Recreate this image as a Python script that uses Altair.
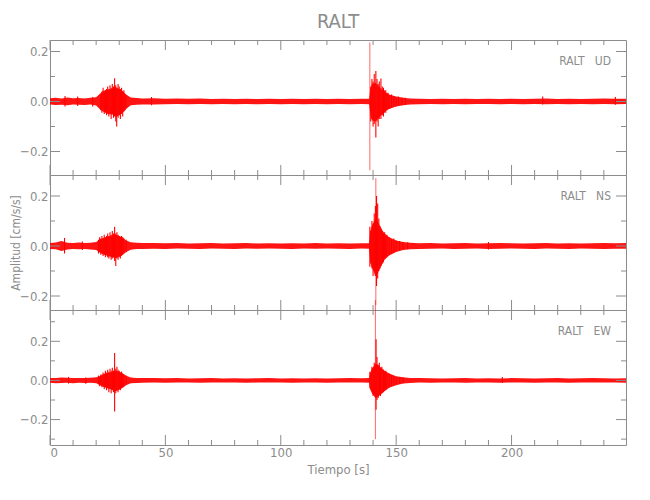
import altair as alt
import pandas as pd

RED = "#ff0000"
GRAY = "#8c8c8c"
FONT = "DejaVu Sans Condensed, Liberation Sans Narrow, Liberation Sans, sans-serif"
X_MAX = 249.6
W, H = 576, 135

# ---- envelope of the noise band (time in s, amplitude in cm/s/s) ----
band_t = [0, 2.5, 5, 7.5, 10, 12.5, 15, 17.5, 20,
          21.5, 23, 25, 27, 28.5, 30, 31.5, 33, 35, 37.5, 40,
          45, 50, 55, 60, 65, 70, 75, 80, 85, 90, 95, 100, 105, 110, 115, 120, 125, 130, 135,
          138.3, 138.8, 139.5, 141, 142, 143.5, 145, 147, 150, 153, 156,
          160, 165, 170, 175, 180, 185, 190, 195, 200, 205, 210, 215, 220, 225, 230, 235, 240, 245,
          249.6]

ud_hi = [0.013, 0.015, 0.012, 0.016, 0.013, 0.014, 0.012, 0.015, 0.017,
         0.030, 0.042, 0.048, 0.052, 0.058, 0.050, 0.042, 0.028, 0.016, 0.014, 0.012,
         0.013, 0.011, 0.012, 0.011, 0.012, 0.010, 0.011, 0.010, 0.011, 0.010, 0.011, 0.010, 0.011, 0.010, 0.011, 0.010, 0.011, 0.010, 0.011,
         0.011, 0.050, 0.070, 0.075, 0.065, 0.050, 0.038, 0.028, 0.020, 0.015, 0.012,
         0.011, 0.010, 0.011, 0.010, 0.011, 0.010, 0.011, 0.010, 0.011, 0.010, 0.011, 0.012, 0.010, 0.011, 0.010, 0.011, 0.012, 0.011,
         0.011]
ud_lo = [-0.012, -0.014, -0.013, -0.015, -0.012, -0.013, -0.014, -0.012, -0.016,
         -0.030, -0.040, -0.050, -0.052, -0.060, -0.055, -0.045, -0.030, -0.015, -0.013, -0.012,
         -0.012, -0.011, -0.010, -0.011, -0.010, -0.011, -0.010, -0.011, -0.010, -0.011, -0.010, -0.011, -0.010, -0.011, -0.010, -0.011, -0.010, -0.011, -0.010,
         -0.011, -0.050, -0.075, -0.080, -0.070, -0.055, -0.040, -0.030, -0.020, -0.015, -0.012,
         -0.011, -0.010, -0.011, -0.010, -0.011, -0.010, -0.010, -0.011, -0.010, -0.011, -0.010, -0.011, -0.010, -0.011, -0.010, -0.011, -0.010, -0.011,
         -0.010]

ns_hi = [0.012, 0.014, 0.020, 0.013, 0.012, 0.014, 0.012, 0.013, 0.016,
         0.025, 0.032, 0.038, 0.042, 0.045, 0.040, 0.034, 0.022, 0.015, 0.013, 0.012,
         0.012, 0.011, 0.012, 0.010, 0.011, 0.012, 0.010, 0.011, 0.012, 0.010, 0.011, 0.010, 0.011, 0.010, 0.012, 0.010, 0.011, 0.010, 0.011,
         0.011, 0.060, 0.080, 0.110, 0.100, 0.070, 0.050, 0.035, 0.022, 0.016, 0.013,
         0.011, 0.012, 0.010, 0.011, 0.012, 0.010, 0.011, 0.012, 0.011, 0.010, 0.011, 0.012, 0.010, 0.011, 0.010, 0.011, 0.012, 0.011,
         0.012]
ns_lo = [-0.012, -0.013, -0.020, -0.014, -0.012, -0.013, -0.012, -0.014, -0.016,
         -0.025, -0.033, -0.040, -0.045, -0.048, -0.042, -0.035, -0.024, -0.015, -0.012, -0.012,
         -0.011, -0.012, -0.010, -0.011, -0.012, -0.010, -0.011, -0.012, -0.010, -0.011, -0.010, -0.011, -0.012, -0.010, -0.011, -0.010, -0.011, -0.012, -0.010,
         -0.011, -0.065, -0.085, -0.120, -0.110, -0.080, -0.055, -0.038, -0.024, -0.016, -0.013,
         -0.012, -0.011, -0.010, -0.012, -0.011, -0.010, -0.012, -0.011, -0.010, -0.011, -0.012, -0.010, -0.011, -0.012, -0.010, -0.011, -0.012, -0.011,
         -0.011]

ew_hi = [0.013, 0.012, 0.015, 0.014, 0.012, 0.013, 0.012, 0.014, 0.016,
         0.022, 0.030, 0.038, 0.045, 0.050, 0.045, 0.036, 0.024, 0.015, 0.013, 0.012,
         0.012, 0.011, 0.012, 0.010, 0.011, 0.012, 0.010, 0.011, 0.010, 0.011, 0.012, 0.010, 0.011, 0.010, 0.011, 0.010, 0.011, 0.012, 0.011,
         0.012, 0.040, 0.060, 0.085, 0.080, 0.065, 0.050, 0.035, 0.022, 0.016, 0.013,
         0.012, 0.011, 0.010, 0.011, 0.012, 0.010, 0.011, 0.010, 0.012, 0.011, 0.010, 0.011, 0.012, 0.010, 0.011, 0.012, 0.011, 0.010,
         0.011]
ew_lo = [-0.012, -0.014, -0.013, -0.012, -0.014, -0.012, -0.013, -0.012, -0.015,
         -0.022, -0.032, -0.040, -0.048, -0.055, -0.048, -0.038, -0.025, -0.015, -0.013, -0.012,
         -0.011, -0.012, -0.010, -0.011, -0.012, -0.010, -0.011, -0.010, -0.012, -0.011, -0.010, -0.011, -0.012, -0.010, -0.011, -0.012, -0.010, -0.011, -0.010,
         -0.012, -0.040, -0.065, -0.090, -0.085, -0.070, -0.055, -0.038, -0.024, -0.016, -0.013,
         -0.011, -0.012, -0.010, -0.011, -0.012, -0.010, -0.011, -0.012, -0.010, -0.011, -0.012, -0.010, -0.011, -0.012, -0.010, -0.011, -0.010, -0.011,
         -0.012]

# ---- oscillation spikes: (time, min, max) ----
ud_spikes = [(6.5, -0.020, 0.022), (12.0, -0.018, 0.020), (18.5, -0.020, 0.018),
             (22.0, -0.035, 0.030), (22.5, -0.045, 0.040), (23.0, -0.030, 0.055), (23.5, -0.050, 0.035),
             (24.0, -0.040, 0.045), (24.5, -0.055, 0.050), (25.0, -0.035, 0.060), (25.5, -0.060, 0.045),
             (26.0, -0.045, 0.065), (26.5, -0.070, 0.055), (27.0, -0.050, 0.070), (27.5, -0.065, 0.060),
             (28.0, -0.060, 0.093), (28.5, -0.080, 0.065), (28.9, -0.100, 0.050), (29.5, -0.065, 0.070),
             (30.0, -0.055, 0.060), (30.5, -0.070, 0.050), (31.0, -0.050, 0.055), (31.5, -0.060, 0.040),
             (32.0, -0.040, 0.045), (32.5, -0.035, 0.030), (33.0, -0.025, 0.025), (44.0, -0.015, 0.018),
             (139.0, -0.080, 0.060), (139.5, -0.070, 0.090), (140.0, -0.100, 0.080), (140.5, -0.090, 0.110),
             (141.2, -0.144, 0.122), (141.7, -0.080, 0.090), (142.2, -0.100, 0.070), (142.7, -0.070, 0.080),
             (143.4, -0.070, 0.092), (144.0, -0.055, 0.060), (144.5, -0.060, 0.055), (145.0, -0.045, 0.045),
             (145.5, -0.045, 0.045), (146.0, -0.035, 0.035), (146.5, -0.030, 0.035), (147.0, -0.030, 0.025),
             (148.0, -0.025, 0.028), (149.0, -0.020, 0.022), (150.0, -0.020, 0.018), (151.0, -0.016, 0.020),
             (152.5, -0.015, 0.016), (154.0, -0.012, 0.015), (213.5, -0.012, 0.020), (245.0, -0.013, 0.018)]
ud_peak = [(138.6, -0.275, 0.236)]

ns_spikes = [(6.3, -0.030, 0.032), (14.0, -0.016, 0.018),
             (21.0, -0.030, 0.025), (21.5, -0.025, 0.035), (22.0, -0.035, 0.030), (22.5, -0.030, 0.040),
             (23.0, -0.040, 0.030), (23.5, -0.035, 0.045), (24.0, -0.045, 0.035), (24.5, -0.030, 0.040),
             (25.0, -0.045, 0.050), (25.5, -0.050, 0.040), (26.0, -0.040, 0.055), (26.5, -0.055, 0.045),
             (27.0, -0.050, 0.060), (27.5, -0.045, 0.050), (28.0, -0.060, 0.077), (28.5, -0.080, 0.050),
             (29.0, -0.050, 0.055), (29.5, -0.055, 0.045), (30.0, -0.045, 0.040), (30.5, -0.050, 0.035),
             (31.0, -0.040, 0.040), (31.5, -0.035, 0.035), (32.0, -0.030, 0.030), (33.0, -0.025, 0.025),
             (138.6, -0.083, 0.077), (139.0, -0.070, 0.060), (139.5, -0.090, 0.100), (140.0, -0.120, 0.090),
             (140.5, -0.100, 0.130), (141.0, -0.120, 0.160), (141.5, -0.160, 0.200), (142.0, -0.130, 0.170),
             (142.5, -0.100, 0.110), (143.0, -0.090, 0.080), (143.5, -0.080, 0.070), (144.0, -0.070, 0.060),
             (144.5, -0.065, 0.050), (145.0, -0.050, 0.055), (145.5, -0.045, 0.040), (146.0, -0.040, 0.045),
             (147.0, -0.035, 0.035), (148.0, -0.030, 0.025), (149.0, -0.025, 0.030), (150.0, -0.020, 0.022),
             (151.5, -0.018, 0.020), (153.0, -0.015, 0.016), (155.0, -0.013, 0.015), (190.0, -0.014, 0.016)]
ns_peak = [(141.2, -0.236, 0.271)]

ew_spikes = [(8.0, -0.016, 0.018), (15.5, -0.017, 0.015),
             (21.0, -0.020, 0.025), (21.5, -0.030, 0.020), (22.0, -0.025, 0.030), (22.5, -0.035, 0.030),
             (23.0, -0.030, 0.040), (23.5, -0.045, 0.035), (24.0, -0.035, 0.050), (24.5, -0.050, 0.040),
             (25.0, -0.040, 0.055), (25.5, -0.060, 0.045), (26.0, -0.045, 0.060), (26.5, -0.065, 0.050),
             (27.0, -0.050, 0.065), (27.5, -0.060, 0.050), (28.0, -0.159, 0.140), (28.5, -0.065, 0.060),
             (29.0, -0.050, 0.070), (29.5, -0.060, 0.055), (30.0, -0.045, 0.050), (30.5, -0.050, 0.040),
             (31.0, -0.040, 0.045), (31.5, -0.035, 0.035), (32.0, -0.030, 0.030), (33.0, -0.020, 0.025),
             (138.6, -0.040, 0.045), (139.0, -0.050, 0.040), (139.5, -0.060, 0.070), (140.0, -0.080, 0.060),
             (140.5, -0.070, 0.090), (141.3, -0.150, 0.210), (141.7, -0.100, 0.120), (142.2, -0.090, 0.080),
             (142.7, -0.075, 0.090), (143.2, -0.080, 0.065), (143.8, -0.065, 0.070), (144.5, -0.060, 0.055),
             (145.0, -0.050, 0.045), (145.5, -0.045, 0.050), (146.0, -0.040, 0.035), (147.0, -0.035, 0.035),
             (148.0, -0.028, 0.028), (149.0, -0.022, 0.024), (150.0, -0.020, 0.018), (151.5, -0.016, 0.018),
             (153.0, -0.014, 0.015), (196.0, -0.013, 0.017)]
ew_peak = [(141.0, -0.300, 0.410)]

components = ["UD", "NS", "EW"]
station = "RALT"
y_domains = [(-0.294, 0.246), (-0.256, 0.284), (-0.330, 0.360)]
y_major = [[-0.2, 0.0, 0.2], [-0.2, 0.0, 0.2], [-0.2, 0.0, 0.2]]
y_minor = [[-0.1, 0.1], [-0.1, 0.1], [-0.3, -0.1, 0.1, 0.3]]
x_labels = [0, 50, 100, 150, 200]
x_minor = [10, 20, 30, 40, 60, 70, 80, 90, 110, 120, 130, 140, 160, 170, 180, 190, 210, 220, 230, 240]
x_title = "Tiempo [s]"
y_title = "Amplitud [cm/s/s]"

bands = [(ud_lo, ud_hi), (ns_lo, ns_hi), (ew_lo, ew_hi)]
spikes = [ud_spikes, ns_spikes, ew_spikes]
peaks = [ud_peak, ns_peak, ew_peak]


def panel(i):
    last = i == 2
    xscale = alt.Scale(domain=[0, X_MAX], nice=False, zero=False)
    yscale = alt.Scale(domain=list(y_domains[i]), nice=False, zero=False)
    if last:
        xaxis = alt.Axis(values=x_labels, ticks=False, domain=False, grid=False, labelPadding=1,
                         title=x_title, titlePadding=4, format="d")
    else:
        xaxis = None
    if i == 1:
        yaxis = alt.Axis(values=y_major[i], ticks=False, domain=False, grid=False, format=".1f",
                         labelPadding=2, title=y_title, titleAngle=270, titleBaseline="bottom",
                         titleX=-28, titleY=H / 2, titleFontSize=12)
    else:
        yaxis = alt.Axis(values=y_major[i], ticks=False, domain=False, grid=False, format=".1f",
                         labelPadding=2, title=None)

    band_df = pd.DataFrame({"t": band_t, "lo": bands[i][0], "hi": bands[i][1]})
    sp_df = pd.DataFrame(spikes[i], columns=["t", "lo", "hi"])
    pk_df = pd.DataFrame(peaks[i], columns=["t", "lo", "hi"])

    X = lambda f: alt.X(f, scale=xscale, axis=xaxis)
    Y = lambda f: alt.Y(f, scale=yscale, axis=yaxis)

    band = alt.Chart(band_df).mark_area(color=RED, opacity=0.92).encode(
        x=X("t:Q"), y=Y("lo:Q"), y2="hi:Q")
    sp = alt.Chart(sp_df).mark_rule(color=RED, strokeWidth=1.1).encode(
        x=X("t:Q"), y=Y("lo:Q"), y2="hi:Q")
    pk = alt.Chart(pk_df).mark_rule(color=RED, strokeWidth=1, opacity=0.6).encode(
        x=X("t:Q"), y=Y("lo:Q"), y2="hi:Q")

    xt_major = pd.DataFrame({"v": x_labels})
    xt_minor = pd.DataFrame({"v": x_minor})
    yt_major = pd.DataFrame({"v": y_major[i]})
    yt_minor = pd.DataFrame({"v": y_minor[i]})

    tick = dict(color=GRAY, strokeWidth=1)
    layers = [band, sp, pk]
    for df, ln in ((xt_major, 10), (xt_minor, 5)):
        layers.append(alt.Chart(df).mark_rule(**tick).encode(
            x=X("v:Q"), y=alt.value(0), y2=alt.value(ln)))
        layers.append(alt.Chart(df).mark_rule(**tick).encode(
            x=X("v:Q"), y=alt.value(H), y2=alt.value(H - ln)))
    for df, ln in ((yt_major, 10), (yt_minor, 5)):
        layers.append(alt.Chart(df).mark_rule(**tick).encode(
            y=Y("v:Q"), x=alt.value(0), x2=alt.value(ln)))
        layers.append(alt.Chart(df).mark_rule(**tick).encode(
            y=Y("v:Q"), x=alt.value(W), x2=alt.value(W - ln)))

    lab = alt.Chart(pd.DataFrame({"s": [station + "\u00a0\u00a0\u00a0" + components[i]]})).mark_text(
        color=GRAY, font=FONT, fontSize=12, align="right", baseline="middle").encode(
        x=alt.value(W - 15), y=alt.value(21), text="s:N")
    layers.append(lab)

    ch = alt.layer(*layers).properties(width=W, height=H)
    if i == 0:
        ch = ch.properties(title=alt.TitleParams(station, fontSize=20, color=GRAY, font=FONT,
                                                 fontWeight="normal", anchor="middle",
                                                 frame="group", offset=8))
    return ch


chart = alt.vconcat(panel(0), panel(1), panel(2), spacing=0, bounds="flush").properties(
    padding={"left": 0, "top": 3, "right": 5, "bottom": 5}
).configure_view(stroke=GRAY, strokeWidth=1).configure_axis(
    labelFont=FONT, labelFontSize=13, labelColor=GRAY,
    titleFont=FONT, titleFontSize=13, titleColor=GRAY, titleFontWeight="normal"
).configure_concat(spacing=0)

chart.save("out.html", embed_options={"renderer": "svg", "actions": False})
